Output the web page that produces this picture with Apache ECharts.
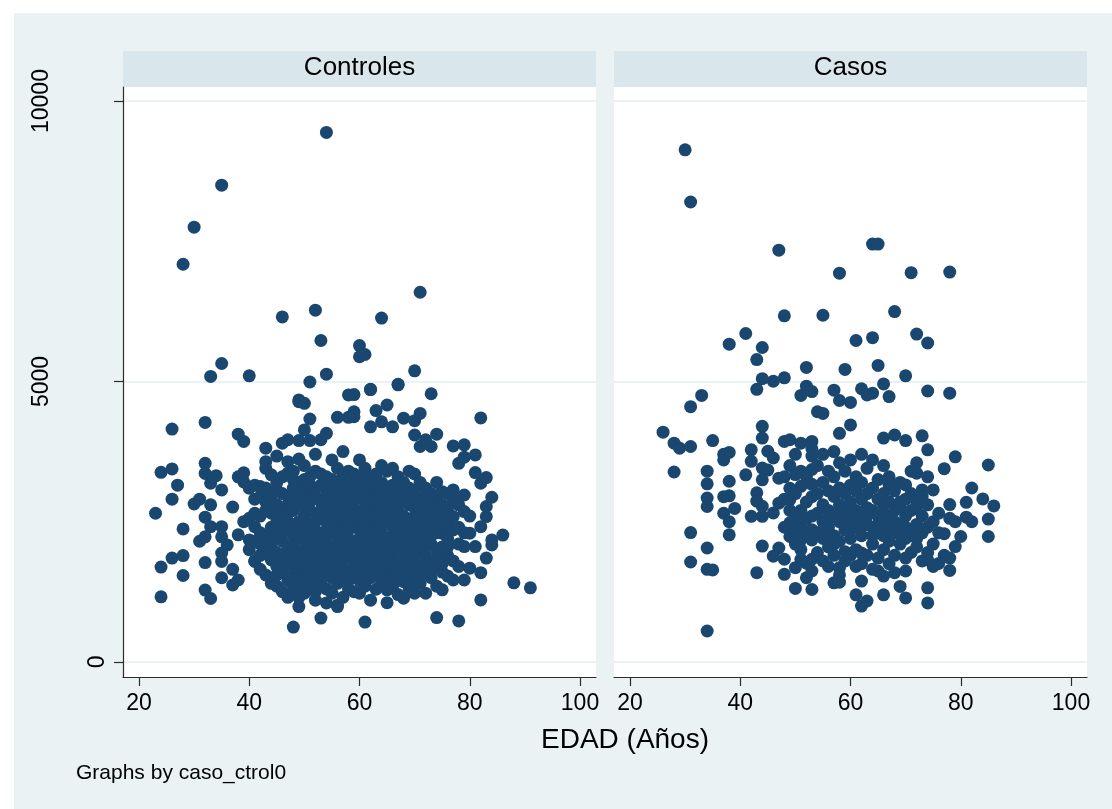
<!DOCTYPE html>
<html>
<head>
<meta charset="utf-8">
<title>EDAD por grupo</title>
<script src="https://cdn.jsdelivr.net/npm/echarts@6/dist/echarts.min.js"></script>
<style>
  html, body { margin: 0; padding: 0; background: #ffffff; }
  #chart { width: 1112px; height: 809px; }
</style>
</head>
<body>
<div id="chart"></div>
<script>
// Panel headings, axis texts and tick values
const panelTitles = ['Controles', 'Casos'];
const xAxisTitle = 'EDAD (Años)';
const byNote = 'Graphs by caso_ctrol0';
const xTicks = [20, 40, 60, 80, 100];
const yTicks = [0, 5000, 10000];

// [edad, valor] — grupo control
const controles = [
  [54,9440],[35,8500],[30,7750],[28,7090],[71,6590],[46,6150],[52,6270],[64,6130],[53,5730],
  [60,5640],[60,5440],[61,5480],[35,5320],[33,5090],[40,5100],[51,4990],[54,5130],[70,5190],
  [67,4950],[62,4855],[59,4765],[73,4780],[49,4670],
  [26,4150],[32,4270],[24,3380],[26,3440],[27,3150],[26,2900],[23,2650],[28,2370],[24,1690],
  [26,1850],[28,1895],[28,1540],[24,1160],[38,4060],[39,3930],[32,3540],[32,3360],[34,3320],
  [33,3185],[35,3065],[30,2815],[31,2900],[33,2800],[32,2580],[33,2410],[35,2410],[31,2150],
  [32,2230],[35,2230],[36,2085],[35,1940],[35,1790],[32,1770],[35,1500],[37,1650],[38,1460],
  [37,1370],[32,1280],[33,1130],[37,2760],[38,3300],[39,3370],[39,3210],[40,3095],[42,3125],
  [42,2945],[43,3810],[45,3670],[43,3570],[43,3450],[44,3335],[39,2500],[40,2560],[41,2410],
  [38,2265],[40,2175],[40,2000],[41,1790],[43,1550],
  [41,1800],[41,2900],[41,3150],[41,2150],[41,2650],
  [42,1650],[42,2100],[42,2600],[42,2300],[42,1900],
  [43,1950],[43,2250],[43,2700],[43,2850],[43,3100],
  [44,1820],[44,2050],[44,2400],[44,2650],[44,2950],[44,1400],[44,2200],
  [45,1700],[45,1350],[45,2200],[45,2500],[45,2800],[45,3065],[45,3200],[45,1550],[45,1950],
  [46,1250],[46,1600],[46,1900],[46,2150],[46,2450],[46,2750],[46,3000],[46,3300],[46,3900],[46,2600],
  [47,1450],[47,1750],[47,2050],[47,2350],[47,2650],[47,2950],[47,3365],[47,3570],[47,3960],[47,1150],
  [48,620],[48,1240],[48,1550],[48,1850],[48,2100],[48,2400],[48,2700],[48,3100],[48,3400],[48,2250],[48,1350],
  [49,985],[49,1400],[49,1650],[49,1950],[49,2250],[49,2500],[49,2800],[49,3200],[49,3615],[49,3945],[49,4640],[49,1150],
  [50,1225],[50,1700],[50,2000],[50,2300],[50,2600],[50,2900],[50,3250],[50,3500],[50,4135],[50,4610],[50,1500],[50,2750],
  [51,1350],[51,1600],[51,1850],[51,2150],[51,2450],[51,2700],[51,3000],[51,3300],[51,3945],[51,4330],[51,2000],
  [52,1250],[52,1500],[52,1800],[52,2050],[52,2350],[52,2650],[52,2950],[52,3400],[52,3700],[52,2200],[52,1100],
  [53,780],[53,1400],[53,1700],[53,1950],[53,2250],[53,2550],[53,2850],[53,3150],[53,3960],[53,3350],[53,2100],
  [54,1300],[54,1600],[54,1900],[54,2200],[54,2500],[54,2800],[54,3050],[54,3300],[54,4075],[54,2650],[54,1050],
  [55,1225],[55,1500],[55,1750],[55,2050],[55,2350],[55,2650],[55,2950],[55,3250],[55,3600],[55,1900],[55,2800],
  [56,1010],[56,985],[56,1400],[56,1650],[56,1950],[56,2250],[56,2550],[56,2850],[56,3150],[56,3450],[56,4360],[56,2400],[56,1800],
  [57,1150],[57,1500],[57,1800],[57,2100],[57,2400],[57,2700],[57,3000],[57,3300],[57,3750],[57,2200],[57,2600],
  [58,1300],[58,1600],[58,1900],[58,2200],[58,2500],[58,2800],[58,3100],[58,3400],[58,4360],[58,4760],[58,2000],
  [59,1250],[59,1550],[59,1850],[59,2150],[59,2450],[59,2750],[59,3050],[59,3350],[59,4460],[59,4370],[59,2900],
  [60,1225],[60,1450],[60,1750],[60,2050],[60,2350],[60,2650],[60,2950],[60,3250],[60,3600],[60,2500],[60,1900],
  [61,710],[61,1350],[61,1650],[61,1950],[61,2250],[61,2550],[61,2850],[61,3150],[61,3450],[61,2100],[61,2700],
  [62,1100],[62,1500],[62,1800],[62,2100],[62,2400],[62,2700],[62,3000],[62,3300],[62,4190],[62,4860],[62,2250],
  [63,1295],[63,1550],[63,1850],[63,2150],[63,2450],[63,2750],[63,3050],[63,3350],[63,4480],[63,1950],[63,2600],
  [64,1400],[64,1700],[64,2000],[64,2300],[64,2600],[64,2900],[64,3200],[64,3500],[64,4280],[64,2450],
  [65,1055],[65,1285],[65,1600],[65,1900],[65,2200],[65,2500],[65,2800],[65,3100],[65,3400],[65,4580],[65,2050],
  [66,1350],[66,1650],[66,1950],[66,2250],[66,2550],[66,2850],[66,3150],[66,3450],[66,4190],[66,2700],
  [67,1200],[67,1500],[67,1800],[67,2100],[67,2400],[67,2700],[67,3000],[67,3300],[67,4940],[67,2250],
  [68,1135],[68,1430],[68,1700],[68,2000],[68,2300],[68,2600],[68,2900],[68,3200],[68,4345],[68,2450],
  [69,1300],[69,1600],[69,1900],[69,2200],[69,2500],[69,2800],[69,3100],[69,3400],[69,2050],
  [70,1225],[70,1550],[70,1850],[70,2150],[70,2450],[70,2750],[70,3050],[70,4045],[70,4300],[70,3350],
  [71,1400],[71,1700],[71,2000],[71,2300],[71,2600],[71,2900],[71,3200],[71,3840],[71,4430],
  [72,1225],[72,1610],[72,1900],[72,2200],[72,2295],[72,2500],[72,2800],[72,3100],[72,3960],
  [73,1500],[73,1800],[73,2100],[73,2400],[73,2700],[73,3000],[73,3840],
  [74,790],[74,1350],[74,1700],[74,2000],[74,2300],[74,2600],[74,2900],[74,3200],[74,4060],
  [75,1285],[75,1600],[75,1900],[75,2295],[75,2500],[75,2800],[75,3035],
  [76,1530],[76,1890],[76,2200],[76,2470],[76,2750],[76,3000],
  [77,1460],[77,1800],[77,2355],[77,2590],[77,2900],[77,3065],[77,3850],
  [78,730],[78,1700],[78,2100],[78,2400],[78,2800],[78,3540],
  [79,1460],[79,2055],[79,2300],[79,2680],[79,2975],[79,3650],[79,3870],
  [80,1670],[80,2295],[80,2600],
  [81,2055],[81,3375],[81,3690],
  [82,1105],[82,1590],[82,2410],[82,3185],[82,4350],
  [83,1850],[83,2590],[83,2770],[83,3285],
  [84,2085],[84,2175],[84,2935],
  [86,2260],[88,1410],[91,1320],
  [45,2350],[45,2650],
  [46,1750],[46,2300],
  [47,1900],[47,2500],[47,2800],
  [48,1700],[48,1950],[48,2850],[48,3250],
  [49,1800],[49,2400],[49,3000],
  [50,2150],[50,3100],
  [51,1700],[51,2300],[51,2850],[51,3150],
  [52,1650],[52,1950],[52,2500],[52,3100],
  [53,1550],[53,1850],[53,2700],
  [54,1750],[54,2350],[54,2950],[54,3200],
  [55,1650],[55,2500],[55,3100],
  [56,1550],[56,2100],[56,3000],
  [57,1650],[57,1950],[57,2850],[57,3150],
  [58,1450],[58,2350],[58,2650],[58,2950],
  [59,1700],[59,2000],[59,2600],[59,3200],
  [60,1600],[60,2200],[60,3100],
  [61,1500],[61,1800],[61,2400],[61,3000],[61,3300],
  [62,1650],[62,1950],[62,2850],[62,3150],
  [63,1700],[63,2300],[63,2900],[63,3200],
  [64,1550],[64,1850],[64,2750],[64,3050],
  [65,1450],[65,1750],[65,2650],[65,2950],
  [66,1500],[66,2100],[66,2400],[66,3000],
  [67,1650],[67,2550],[67,2850],[67,3150],
  [68,1550],[68,1850],[68,2150],[68,3050],
  [69,1450],[69,1750],[69,2350],[69,2950],
  [70,1700],[70,2000],[70,2600],[70,2900],
  [71,1550],[71,2150],[71,2450],[71,2750],
  [72,1750],[72,2050],[72,2650],[72,2950],
  [73,1650],[73,2250],[73,2550],[73,2850],
  [74,1850],[74,2450],[74,2750],
  [75,1750],[75,2050],[75,2650],
  [76,2050],[76,2600]
];

// [edad, valor] — grupo casos
const casos = [
  [30,9130],[31,8200],[47,7340],[64,7450],[65,7450],[58,6930],[71,6940],[78,6950],[48,6170],
  [55,6180],[68,6245],[41,5855],[38,5665],[44,5605],[43,5390],[61,5730],[64,5780],[72,5845],
  [74,5685],[52,5250],[59,5215],[65,5285],[70,5100],[44,5050],[46,5005],[48,5065],[43,4860],
  [52,4915],[53,4820],[51,4750],[57,4845],[62,4870],[64,4790],[66,4955],[67,4730],[58,4660],
  [60,4625],[63,4760],[74,4830],[78,4790],[33,4750],[31,4550],[54,4460],[55,4430],[60,4225],
  [58,4075],[66,3990],[68,4045],[70,3945],[73,4030],[74,3780],[79,3655],[85,3510],
  [26,4095],[28,3900],[29,3810],[31,3840],[35,3945],[28,3385],[34,3400],[34,3175],[37,3700],
  [38,3735],[37,3600],[38,3220],[34,2920],[34,2770],[37,2945],[38,2960],[39,2735],[37,2650],
  [38,2500],[31,2305],[38,2265],[34,2030],[31,1780],[34,1650],[35,1640],[34,550],
  [44,4200],[44,3990],[42,3780],[45,3755],[46,3635],[42,3575],[44,3455],[41,3335],[45,3420],
  [47,3275],[44,3245],[43,3015],[43,2865],[44,2775],[42,2595],[44,2595],[46,2655],[47,2830],
  [49,2890],[49,3095],[48,3930],[49,3960],[51,3900],[53,3930],[50,3340],[51,3130],[53,3670],
  [53,3430],[53,3165],[53,2945],[49,2480],[51,2415],[49,2235],[51,2175],[53,2355],[53,2175],
  [44,2065],[47,2030],[46,1885],[48,1830],[51,1830],[50,1680],[53,1830],[53,1620],[52,1760],
  [43,1590],[48,1560],[50,1310],[53,1290],
  [77,3445],[82,3100],[84,2905],[86,2780],[78,2805],[81,2845],[78,2560],[79,2500],[81,2580],
  [82,2500],[85,2545],[85,2235],[77,2285],[80,2235],[79,2055],[78,1850],[78,1630],[75,3065],
  [73,3065],[72,2860],[72,3550],[72,3365],[70,3155],[67,3155],[69,2850],[76,1755],[74,1820],
  [74,1320],[74,1050],[70,1140],[69,1345],[66,1195],[62,995],[63,1085],[61,1195],[57,1410],
  [58,1420],[62,1440],[65,1620],[66,1530],[68,1590],[70,1620],[58,1680],[61,1700],[62,1940],
  [59,1965],
  [48,2400],[48,2900],[48,3300],[49,2700],[49,3500],
  [50,2100],[50,2300],[50,2600],[50,3000],[50,3700],
  [51,2000],[51,2700],[51,3400],
  [52,2250],[52,2550],[52,2850],[52,3300],[52,1500],
  [53,2600],[53,3800],
  [54,1950],[54,2300],[54,2650],[54,3000],[54,3500],
  [55,1800],[55,2200],[55,2500],[55,2800],[55,3200],[55,3700],
  [56,1700],[56,2050],[56,2400],[56,2700],[56,3050],[56,3400],
  [57,1900],[57,2250],[57,2600],[57,2950],[57,3300],[57,3750],
  [58,1550],[58,2150],[58,2500],[58,2800],[58,3100],[58,3550],
  [59,1800],[59,2350],[59,2700],[59,3000],[59,3400],
  [60,1900],[60,2200],[60,2550],[60,2850],[60,3150],[60,3600],
  [61,2000],[61,2400],[61,2700],[61,3050],[61,3300],
  [62,1750],[62,2250],[62,2600],[62,2900],[62,3200],[62,3700],
  [63,1900],[63,2450],[63,2750],[63,3000],[63,3450],
  [64,1650],[64,2100],[64,2400],[64,2700],[64,3100],[64,3600],
  [65,1850],[65,2300],[65,2600],[65,2900],[65,3250],
  [66,2000],[66,2450],[66,2800],[66,3000],[66,3500],
  [67,1750],[67,2150],[67,2550],[67,2850],[67,3300],
  [68,1900],[68,2300],[68,2700],[68,3050],
  [69,2100],[69,2450],[69,2750],[69,3200],
  [70,1850],[70,2200],[70,2600],[70,2900],
  [71,1950],[71,2350],[71,2700],[71,3000],[71,3400],
  [72,2050],[72,2450],[72,2750],[72,2200],
  [73,1800],[73,2300],[73,2600],[73,2950],
  [74,1950],[74,2400],[74,2800],[74,3300],
  [75,2100],[75,2500],[75,1700],
  [76,2300],[76,2650],[77,1900],
  [55,2350],[56,2550],[57,2100],[58,2650],[59,2500],[60,2350],[60,2700],[61,2550],[62,2400],
  [63,2600],[64,2250],[65,2450],[66,2250],[66,2650],[67,2400],[68,2500],[69,2300],[70,2400]
];

// ---- styling ----
const FONT = '"Liberation Sans", Arial, sans-serif';
const MARKER = '#1a476f';
const OUTER_BG = '#eaf2f3';
const STRIP_BG = '#d9e6eb';
const GRID_LINE = '#eaf2f3';
const AXIS_DARK = '#2b2b2b';

const panels = [
  { left: 123, top: 87, width: 473, height: 590 },
  { left: 614, top: 87, width: 473, height: 590 }
];

// rotated y labels: the multi-digit ones sit further out from the axis
const yLabelShift = { 0: 0, 5000: 56, 10000: 56 };

const chart = echarts.init(document.getElementById('chart'), null, { renderer: 'canvas' });

function xAxisFor(i) {
  return {
    type: 'value', gridIndex: i, min: 17.1, max: 102.9,
    axisLine: { show: true, onZero: false, lineStyle: { color: AXIS_DARK, width: 1.2 } },
    axisTick: { show: true, length: 9, customValues: xTicks, lineStyle: { color: AXIS_DARK, width: 1.2 } },
    axisLabel: { customValues: xTicks, margin: 15, fontFamily: FONT, fontSize: 23, color: '#000' },
    splitLine: { show: false }
  };
}

function yAxisFor(i) {
  const first = i === 0;
  return {
    type: 'value', gridIndex: i, min: -270, max: 10250,
    axisLine: { show: first, lineStyle: { color: AXIS_DARK, width: 1.2 } },
    axisTick: { show: first, length: 9, customValues: yTicks, lineStyle: { color: AXIS_DARK, width: 1.2 } },
    axisLabel: {
      show: first, customValues: yTicks, rotate: 90, margin: 14,
      formatter: v => '{s' + v + '|' + v + '}',
      rich: Object.fromEntries(yTicks.map(v => ['s' + v, {
        fontFamily: FONT, fontSize: 23, color: '#000', padding: [0, 0, yLabelShift[v], 0]
      }]))
    },
    splitLine: { show: true, lineStyle: { color: GRID_LINE, width: 2 } }
  };
}

const option = {
  animation: false,
  backgroundColor: OUTER_BG,
  grid: panels.map(p => Object.assign({ show: true, backgroundColor: '#ffffff', borderWidth: 0 }, p)),
  xAxis: [xAxisFor(0), xAxisFor(1)],
  yAxis: [yAxisFor(0), yAxisFor(1)],
  series: [controles, casos].map((d, i) => ({
    type: 'scatter', xAxisIndex: i, yAxisIndex: i, data: d,
    symbol: 'circle', symbolSize: 13,
    itemStyle: { color: MARKER, opacity: 1 },
    emphasis: { disabled: true }
  })),
  graphic: [
    // white margin along the top and left edges
    { type: 'rect', shape: { x: 0, y: 0, width: 1112, height: 13 }, style: { fill: '#ffffff' }, silent: true },
    { type: 'rect', shape: { x: 0, y: 0, width: 14, height: 809 }, style: { fill: '#ffffff' }, silent: true },
    ...panels.map((p, i) => ({
      type: 'group', silent: true,
      children: [
        { type: 'rect', shape: { x: p.left, y: 51, width: p.width, height: 36 }, style: { fill: STRIP_BG } },
        { type: 'text', x: p.left + p.width / 2, y: 68,
          style: { text: panelTitles[i], font: '26px ' + FONT, fill: '#000', align: 'center', verticalAlign: 'middle' } }
      ]
    })),
    { type: 'text', x: 625, y: 740, silent: true,
      style: { text: xAxisTitle, font: '28px ' + FONT, fill: '#000', align: 'center', verticalAlign: 'middle' } },
    { type: 'text', x: 76, y: 773, silent: true,
      style: { text: byNote, font: '21px ' + FONT, fill: '#000', align: 'left', verticalAlign: 'middle' } }
  ]
};

chart.setOption(option);
</script>
</body>
</html>
